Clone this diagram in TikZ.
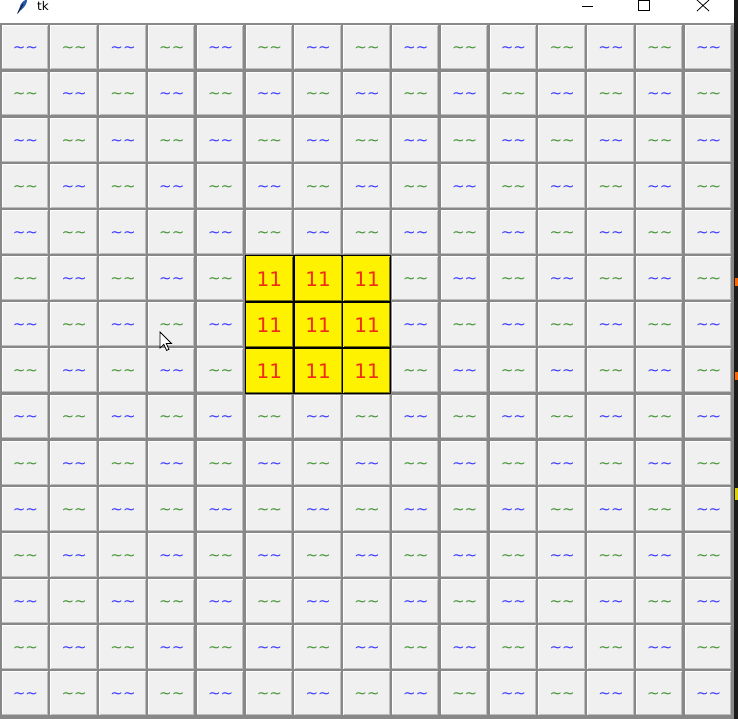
\documentclass[tikz,border=0pt]{standalone}
\usepackage{fontspec}
\setmainfont{DejaVu Sans}
\definecolor{btnface}{HTML}{F0F0F0}
\definecolor{gapgray}{HTML}{888888}
\definecolor{btnshade}{HTML}{BDBDBD}
\definecolor{edgedark}{HTML}{1C1C1C}
\definecolor{tblue}{RGB}{60,60,255}
\definecolor{tgreen}{RGB}{70,150,55}
\definecolor{elevenred}{RGB}{240,45,20}
\definecolor{ydark}{RGB}{120,120,0}
\definecolor{featherblue}{RGB}{40,90,170}
\tikzset{
  tilde/.style={anchor=base, inner sep=0pt, font=\fontsize{15}{15}\selectfont},
  eleven/.style={anchor=base, inner sep=0pt, text=elevenred, font=\fontsize{20}{20}\selectfont},
  titletext/.style={anchor=base west, inner sep=0pt, font=\fontsize{12}{12}\selectfont}
}
\begin{document}
\begin{tikzpicture}[x=1pt,y=-1pt]
\useasboundingbox (0,0) rectangle (738,719);
\fill[white] (0,0) rectangle (738,719);
\fill[gapgray] (0,23.5) rectangle (734,719);
\fill[edgedark] (733.5,0) rectangle (738,719);
% right-edge artefacts
\fill[orange!80!red] (735,278) rectangle (738,286);
\fill[orange!80!red] (735,372) rectangle (738,380);
\fill[yellow!70!olive] (735,488) rectangle (738,500);
% title bar
\fill[featherblue] (17.5,13.5) -- (20.5,5) .. controls (22.5,1) and (25.5,-0.5) .. (27,0) .. controls (27,3) and (25,7) .. (21,10) -- cycle;
\draw[black,line width=0.6pt] (17.5,13.5) -- (23,4);
\node[titletext] (title) at (37,11) {tk};
\draw[black,line width=0.8pt] (582,6) -- (593,6);
\draw[black,line width=0.8pt] (638.5,0.5) rectangle (649.5,10.5);
\draw[black,line width=0.8pt] (697,0) -- (709,11) (709,0) -- (697,11);
% grid of buttons
\foreach \r in {0,...,14}{
 \foreach \c in {0,...,14}{
  \pgfmathsetmacro\xa{1+\c*48.8}
  \pgfmathsetmacro\xb{\xa+48.8}
  \pgfmathsetmacro\ya{25+\r*46.13}
  \pgfmathsetmacro\yb{\ya+46.13}
  \pgfmathsetmacro\cx{(\xa+\xb)/2}
  \pgfmathsetmacro\cy{(\ya+\yb)/2}
  \pgfmathtruncatemacro\isy{and(and(\r>4,\r<8),and(\c>4,\c<8))}
  \pgfmathtruncatemacro\odd{mod(\r+\c,2)}
  \ifnum\isy=1
    \fill[black] (\xa-0.5,\ya-0.5) rectangle (\xb,\yb);
    \fill[yellow] (\xa+0.8,\ya+0.8) rectangle (\xb-1.2,\yb-1.2);
    \draw[ydark,line width=0.9pt] (\xa+1,\yb-1.6) -- (\xb-1.6,\yb-1.6) -- (\xb-1.6,\ya+1);
    \node[eleven] (b-\r-\c) at (\cx,\cy+7.3) {11};
  \else
    \fill[btnface] (\xa+0.5,\ya+0.5) rectangle (\xb-1.8,\yb-1.8);
    \draw[white,line width=1pt] (\xa+1,\yb-2.3) -- (\xa+1,\ya+1) -- (\xb-2.3,\ya+1);
    \draw[btnshade,line width=1pt] (\xa+1,\yb-2.3) -- (\xb-2.3,\yb-2.3) -- (\xb-2.3,\ya+1);
    \ifnum\odd=0
      \node[tilde,text=tblue] (b-\r-\c) at (\cx,\cy+4.8) {\textasciitilde\textasciitilde};
    \else
      \node[tilde,text=tgreen] (b-\r-\c) at (\cx,\cy+4.8) {\textasciitilde\textasciitilde};
    \fi
  \fi
 }
}
% mouse cursor
\draw[black, fill=white, line width=0.8pt, line join=miter] (160,332) -- ++(0,16) -- ++(3.8,-3.6) -- ++(2.8,6) -- ++(2.4,-1.1) -- ++(-2.8,-5.9) -- ++(5.2,0) -- cycle;
\end{tikzpicture}
\end{document}
